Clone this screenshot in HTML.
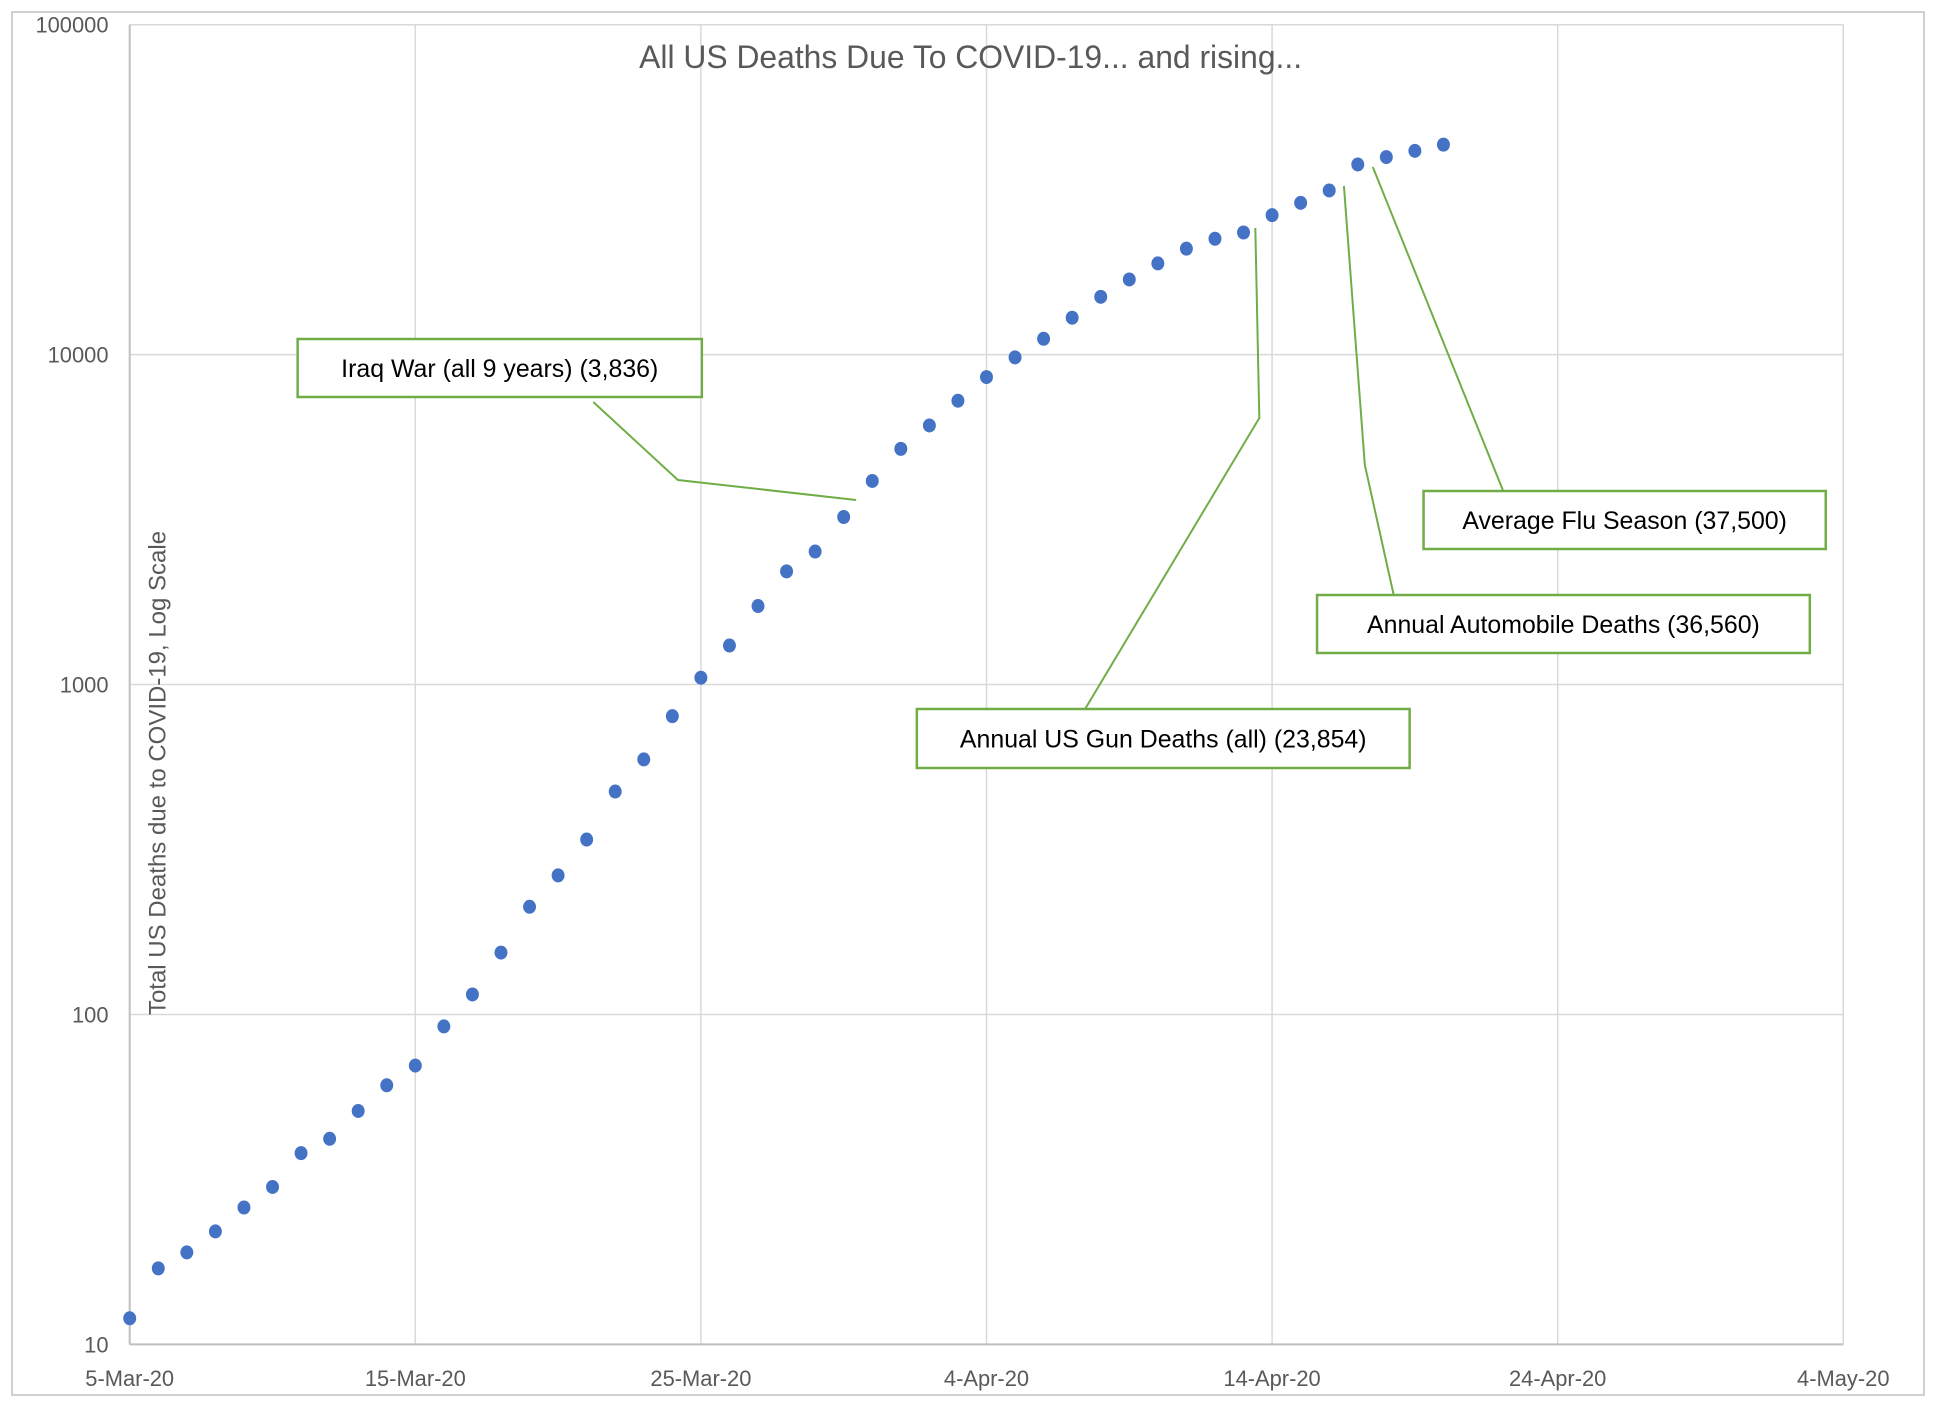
<!DOCTYPE html>
<html><head><meta charset="utf-8"><style>
html,body{margin:0;padding:0;background:#fff;}
svg{display:block;font-family:"Liberation Sans",sans-serif;}
</style></head><body>
<svg id="chart" width="1936" height="1410" viewBox="0 0 1936 1410">
<rect x="12" y="12" width="1912" height="1383" fill="#fff" stroke="#d0d0d0" stroke-width="2"/>
<g transform="scale(0.9955,1)">
<g id="grid"></g>
<g id="axes"></g>
<text x="975" y="68" text-anchor="middle" font-size="32" fill="#595959">All US Deaths Due To COVID-19... and rising...</text>
<text transform="translate(166,773) rotate(-90)" text-anchor="middle" font-size="24" fill="#595959">Total US Deaths due to COVID-19, Log Scale</text>
<g id="points"></g>
<g id="annots"></g>
</g>
</svg>
<script>
const dayOffsets = [0,1,2,3,4,5,6,7,8,9,10,11,12,13,14,15,16,17,18,19,20,21,22,23,24,25,26,27,28,29,30,31,32,33,34,35,36,37,38,39,40,41,42,43,44,45,46];
const deaths = [12,17,19,22,26,30,38,42,51,61,70,92,115,154,212,264,339,474,593,802,1049,1313,1730,2203,2530,3220,4140,5180,6100,7250,8550,9810,11170,12940,14970,16900,18900,20950,22450,23450,26470,28840,31450,37700,39700,41470,43300];
const yTicks = [10,100,1000,10000,100000];
const yTickLabels = ["10","100","1000","10000","100000"];
const xTickDays = [0,10,20,30,40,50,60];
const xTickLabels = ["5-Mar-20","15-Mar-20","25-Mar-20","4-Apr-20","14-Apr-20","24-Apr-20","4-May-20"];
const annotLabels = ["Iraq War (all 9 years) (3,836)","Average Flu Season (37,500)","Annual Automobile Deaths (36,560)","Annual US Gun Deaths (all) (23,854)"];

const L=130.3,R=1851.6,T=24.7,B=1344.4;
const xS=d=>L+(R-L)*d/60;
const yS=v=>B-(B-T)*(Math.log10(v)-1)/4;
const NS="http://www.w3.org/2000/svg";
function mk(tag,attrs,parent){const e=document.createElementNS(NS,tag);for(const k in attrs)e.setAttribute(k,attrs[k]);parent.appendChild(e);return e;}
const grid=document.getElementById('grid'),axes=document.getElementById('axes'),pts=document.getElementById('points'),ann=document.getElementById('annots');

yTicks.forEach((v,i)=>{
  const y=yS(v);
  const ln=mk('line',{x1:L,x2:R,y1:y,y2:y,stroke:'#d9d9d9','stroke-width':1.5},grid);
  
  
  const t=mk('text',{x:109,y:y+8,'text-anchor':'end','font-size':22,fill:'#595959'},axes);
  t.textContent=yTickLabels[i];
  
  
});
xTickDays.forEach((d,i)=>{
  const x=xS(d);
  const ln=mk('line',{x1:x,x2:x,y1:T,y2:B,stroke:'#d9d9d9','stroke-width':1.5},grid);
  
  
  const t=mk('text',{x:x,y:1386,'text-anchor':'middle','font-size':22,fill:'#595959'},axes);
  t.textContent=xTickLabels[i];
  
  
});
const xa=mk('line',{x1:L,x2:R,y1:B,y2:B,stroke:'#bfbfbf','stroke-width':2},axes);


const ya=mk('line',{x1:L,x2:L,y1:T,y2:B,stroke:'#bfbfbf','stroke-width':2},axes);



dayOffsets.forEach((d,i)=>{
  const c=mk('ellipse',{cx:xS(d),cy:yS(deaths[i]),rx:6.5,ry:7,fill:'#4472c4'},pts);
  
  
});

const boxes=[
 {x:299,y:339,w:406,h:58,line:[[596,402],[681,480],[860,500]]},
 {x:1430,y:491,w:404,h:58,line:[[1510,491],[1379,167]]},
 {x:1323,y:595,w:495,h:58,line:[[1400,595],[1371,465],[1350,186]]},
 {x:921,y:709,w:495,h:59,line:[[1090,709],[1265,418],[1261,228]]}
];
boxes.forEach((b,i)=>{
  const pl=mk('polyline',{points:b.line.map(p=>p.join(',')).join(' '),fill:'none',stroke:'#70ad47','stroke-width':2},ann);
  
  
  const r=mk('rect',{x:b.x,y:b.y,width:b.w,height:b.h,fill:'#fff',stroke:'#70ad47','stroke-width':2.5},ann);
  
  
  const t=mk('text',{x:b.x+b.w/2,y:b.y+b.h/2+9,'text-anchor':'middle','font-size':25,fill:'#000'},ann);
  t.textContent=annotLabels[i];
  
  
});
</script>
</body></html>
